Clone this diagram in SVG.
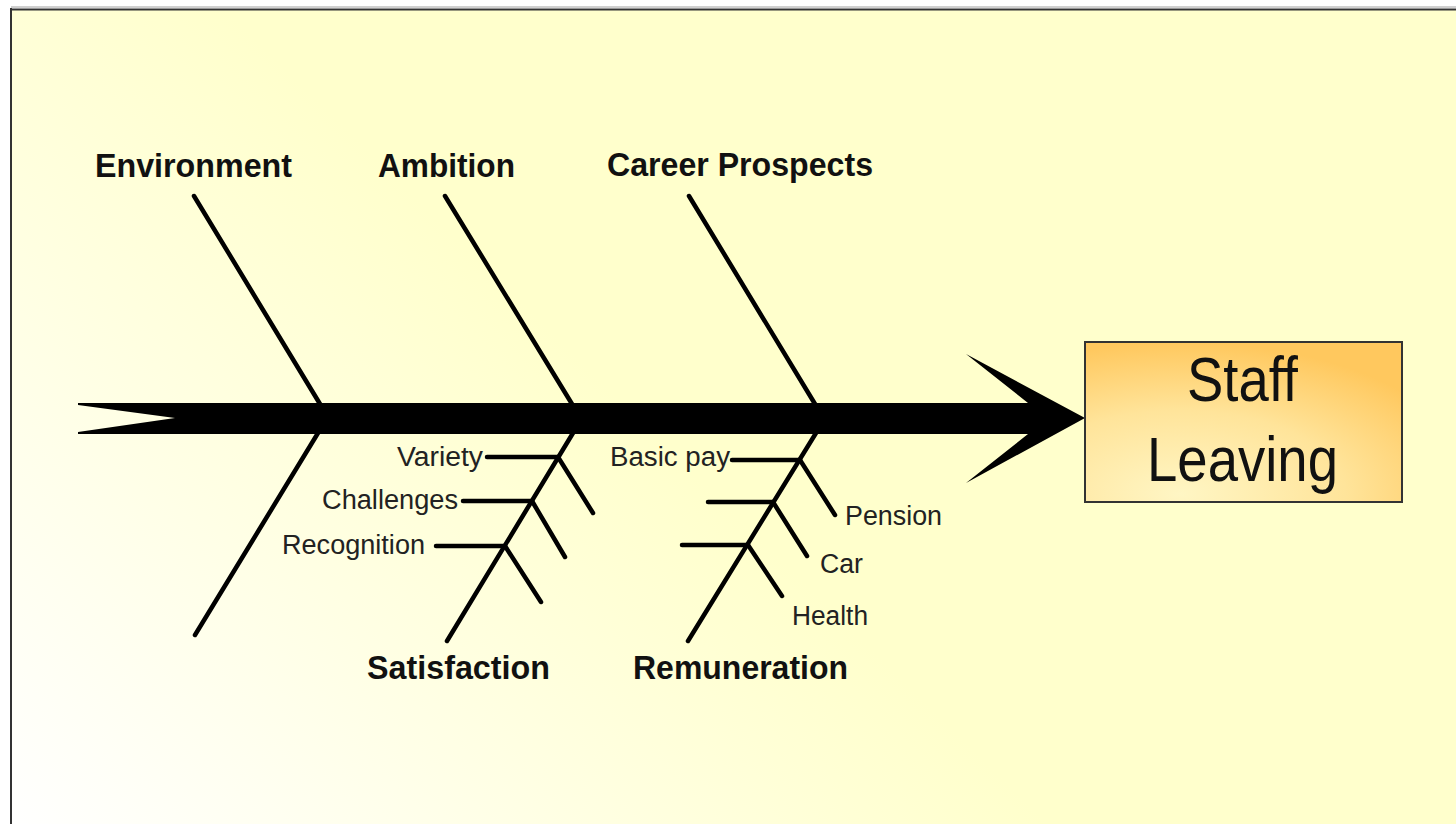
<svg xmlns="http://www.w3.org/2000/svg" width="1456" height="824" viewBox="0 0 1456 824">
  <defs>
    <!-- slide background: pale yellow fading to white toward the lower left -->
    <linearGradient id="slideBg" gradientUnits="userSpaceOnUse" x1="0" y1="824" x2="520" y2="300">
      <stop offset="0" stop-color="#FFFFFF"/>
      <stop offset="1" stop-color="#FFFFCC"/>
    </linearGradient>
    <!-- effect box fill: light in the lower left, orange toward the edges -->
    <radialGradient id="effectFill" cx="0.3" cy="0.95" r="0.95" fx="0.3" fy="0.95">
      <stop offset="0" stop-color="#FFF6C4"/>
      <stop offset="0.55" stop-color="#FFE49A"/>
      <stop offset="1" stop-color="#FFC85E"/>
    </radialGradient>
    <style>
      .bone { stroke: #000; stroke-width: 4.5; stroke-linecap: round; fill: none; }
      .twig { stroke: #000; stroke-width: 4.5; stroke-linecap: round; fill: none; }
      .cat { font-family: "Liberation Sans", Arial, sans-serif; font-weight: bold; font-size: 34px; fill: #111; }
      .cause { font-family: "Liberation Sans", Arial, sans-serif; font-size: 27px; fill: #222; }
      .effectText { font-family: "Liberation Sans", Arial, sans-serif; font-size: 63px; fill: #111; }
    </style>
  </defs>

  <!-- page and slide frame -->
  <rect x="0" y="0" width="1456" height="824" fill="#FFFFFF"/>
  <rect x="11" y="9" width="1460" height="830" fill="url(#slideBg)"/>
  <line x1="11" y1="7" x2="1456" y2="7" stroke="#A0A0A0" stroke-width="1"/>
  <line x1="11" y1="9.5" x2="1456" y2="9.5" stroke="#333333" stroke-width="2"/>
  <line x1="11" y1="8" x2="11" y2="824" stroke="#333333" stroke-width="2"/>

  <!-- connectors: spine, main bones and sub-causes -->
  <g id="connectors">
    <!-- spine with notched tail and arrow head -->
    <polygon id="spine" fill="#000" points="78,403 1028,403 966,354 1085,418 966,483 1028,434 78,434 78,432 175,418 78,405"/>

    <!-- upper bones -->
    <line class="bone" x1="194" y1="196" x2="320" y2="404"/>
    <line class="bone" x1="445" y1="196" x2="572" y2="404"/>
    <line class="bone" x1="689" y1="196" x2="815" y2="404"/>

    <!-- lower bones -->
    <line class="bone" x1="318" y1="433" x2="195" y2="635"/>
    <line class="bone" x1="573" y1="433" x2="447" y2="641"/>
    <line class="bone" x1="816" y1="433" x2="688" y2="641"/>

    <!-- Satisfaction sub-causes -->
    <line class="twig" x1="487" y1="457" x2="558" y2="457"/>
    <line class="twig" x1="558" y1="457" x2="593" y2="513"/>
    <line class="twig" x1="463" y1="501" x2="532" y2="501"/>
    <line class="twig" x1="532" y1="501" x2="565" y2="557"/>
    <line class="twig" x1="436" y1="546" x2="505" y2="546"/>
    <line class="twig" x1="505" y1="546" x2="541" y2="602"/>

    <!-- Remuneration sub-causes -->
    <line class="twig" x1="732" y1="460" x2="800" y2="460"/>
    <line class="twig" x1="800" y1="460" x2="835" y2="515"/>
    <line class="twig" x1="708" y1="502" x2="773" y2="502"/>
    <line class="twig" x1="773" y1="502" x2="807" y2="556"/>
    <line class="twig" x1="682" y1="545" x2="748" y2="545"/>
    <line class="twig" x1="748" y1="545" x2="782" y2="596"/>
  </g>

  <!-- effect -->
  <g id="effect">
    <rect x="1085" y="342" width="317" height="160" fill="url(#effectFill)" stroke="#333" stroke-width="2"/>
    <text class="effectText" x="1187" y="401" textLength="111" lengthAdjust="spacingAndGlyphs">Staff</text>
    <text class="effectText" x="1147" y="481" textLength="191" lengthAdjust="spacingAndGlyphs">Leaving</text>
  </g>

  <!-- cause categories -->
  <g id="cat-environment"><text class="cat" x="95" y="177" textLength="197" lengthAdjust="spacingAndGlyphs">Environment</text></g>
  <g id="cat-ambition"><text class="cat" x="378" y="177" textLength="137" lengthAdjust="spacingAndGlyphs">Ambition</text></g>
  <g id="cat-career"><text class="cat" x="607" y="176" textLength="266" lengthAdjust="spacingAndGlyphs">Career Prospects</text></g>
  <g id="cat-satisfaction"><text class="cat" x="367" y="679" textLength="183" lengthAdjust="spacingAndGlyphs">Satisfaction</text></g>
  <g id="cat-remuneration"><text class="cat" x="633" y="679" textLength="215" lengthAdjust="spacingAndGlyphs">Remuneration</text></g>

  <!-- sub-causes -->
  <g id="cause-variety"><text class="cause" x="397" y="466" textLength="86" lengthAdjust="spacingAndGlyphs">Variety</text></g>
  <g id="cause-challenges"><text class="cause" x="322" y="509" textLength="136" lengthAdjust="spacingAndGlyphs">Challenges</text></g>
  <g id="cause-recognition"><text class="cause" x="282" y="554" textLength="143" lengthAdjust="spacingAndGlyphs">Recognition</text></g>
  <g id="cause-basicpay"><text class="cause" x="610" y="466" textLength="120" lengthAdjust="spacingAndGlyphs">Basic pay</text></g>
  <g id="cause-pension"><text class="cause" x="845" y="525" textLength="97" lengthAdjust="spacingAndGlyphs">Pension</text></g>
  <g id="cause-car"><text class="cause" x="820" y="573" textLength="43" lengthAdjust="spacingAndGlyphs">Car</text></g>
  <g id="cause-health"><text class="cause" x="792" y="625" textLength="76" lengthAdjust="spacingAndGlyphs">Health</text></g>
</svg>
